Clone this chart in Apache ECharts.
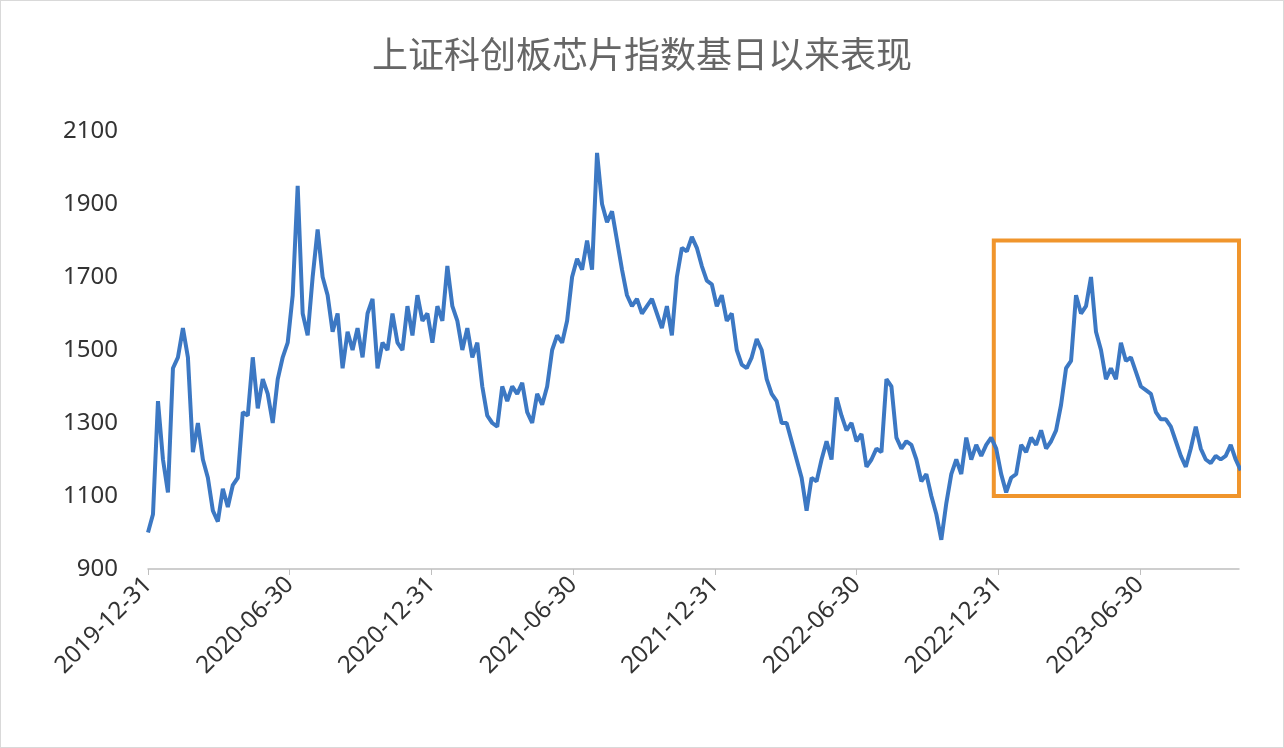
<!DOCTYPE html>
<html>
<head>
<meta charset="utf-8">
<script src="https://cdn.jsdelivr.net/npm/echarts@6/dist/echarts.min.js"></script>
<style>
html,body{margin:0;padding:0;background:#fff}
#chart{width:1282px;height:746px;border:1px solid #d9d9d9}
</style>
</head>
<body>
<div id="chart"></div>
<script>
const title = '上证科创板芯片指数基日以来表现'
const tickLabels = ['2019-12-31', '2020-06-30', '2020-12-31', '2021-06-30', '2021-12-31', '2022-06-30', '2022-12-31', '2023-06-30']
const dayStep = 6.43 // calendar days between samples
const indexValues = [
	1000, 1050, 1360, 1200, 1110, 1450, 1480, 1560, 1480, 1220, 1300, 1200, 1150, 1060, 1030, 1120, 1070, 1130, 1150, 1330,
	1320, 1480, 1340, 1420, 1380, 1300, 1420, 1480, 1520, 1650, 1950, 1600, 1540, 1700, 1830, 1700, 1650, 1550, 1600, 1450,
	1550, 1500, 1560, 1480, 1600, 1640, 1450, 1520, 1500, 1600, 1520, 1500, 1620, 1540, 1650, 1580, 1600, 1520, 1620, 1580,
	1730, 1620, 1580, 1500, 1560, 1480, 1520, 1400, 1320, 1300, 1290, 1400, 1360, 1400, 1380, 1410, 1330, 1300, 1380, 1350,
	1400, 1500, 1540, 1520, 1580, 1700, 1750, 1720, 1800, 1720, 2040, 1900, 1850, 1880, 1800, 1720, 1650, 1620, 1640, 1600,
	1620, 1640, 1600, 1560, 1620, 1540, 1700, 1780, 1770, 1810, 1780, 1730, 1690, 1680, 1620, 1650, 1580, 1600, 1500, 1460,
	1450, 1480, 1530, 1500, 1420, 1380, 1360, 1300, 1300, 1250, 1200, 1150, 1060, 1150, 1140, 1200, 1250, 1200, 1370, 1320,
	1280, 1300, 1250, 1270, 1180, 1200, 1230, 1220, 1420, 1400, 1260, 1230, 1250, 1240, 1200, 1140, 1160, 1100, 1050, 980,
	1080, 1160, 1200, 1160, 1260, 1200, 1240, 1210, 1240, 1260, 1230, 1160, 1110, 1150, 1160, 1240, 1220, 1260, 1240, 1280,
	1230, 1250, 1280, 1350, 1450, 1470, 1650, 1600, 1620, 1700, 1550, 1500, 1420, 1450, 1420, 1520, 1470, 1480, 1440, 1400,
	1390, 1380, 1330, 1310, 1310, 1290, 1250, 1210, 1180, 1230, 1290, 1230, 1200, 1190, 1210, 1200, 1210, 1240, 1200, 1170
]
const highlightDays = [1090, 1406]
const highlightValues = [1100, 1800]

const halfYear = 182.625
const seriesData = indexValues.map((v, i) => [i * dayStep, v])

const myChart = echarts.init(document.getElementById('chart'))

const option = {
	title: {
		text: title,
		left: 'center',
		top: 30,
		textStyle: { fontSize: 36, fontWeight: 'normal', color: '#666', fontFamily: 'Noto Sans CJK SC' },
	},
	grid: { left: 147, right: 44, top: 130, bottom: 178 },
	xAxis: {
		type: 'value',
		min: 0,
		max: 1406,
		interval: halfYear,
		splitLine: { show: false },
		axisLine: { lineStyle: { color: '#bfbfbf', width: 1.5 } },
		axisTick: { show: true, length: 6, lineStyle: { color: '#bfbfbf' } },
		axisLabel: {
			rotate: 45,
			fontSize: 24,
			color: '#333',
			fontFamily: 'Noto Sans',
			showMaxLabel: false,
			margin: 12,
			formatter: v => tickLabels[Math.round(v / halfYear)] || '',
		},
	},
	yAxis: {
		type: 'value',
		min: 900,
		max: 2100,
		interval: 200,
		splitLine: { show: false },
		axisLine: { show: false },
		axisTick: { show: false },
		axisLabel: { fontSize: 24, color: '#333', fontFamily: 'Noto Sans', margin: 30, formatter: v => String(v) },
	},
	series: [
		{
			type: 'line',
			data: seriesData,
			showSymbol: false,
			lineStyle: { color: '#3c78c3', width: 4 },
			markArea: {
				silent: true,
				itemStyle: { color: 'rgba(0,0,0,0)', borderColor: '#f0952c', borderWidth: 4 },
				data: [[
					{ coord: [highlightDays[0], highlightValues[0]] },
					{ coord: [highlightDays[1], highlightValues[1]] },
				]],
			},
		},
	],
}

myChart.setOption(option)
</script>
</body>
</html>
